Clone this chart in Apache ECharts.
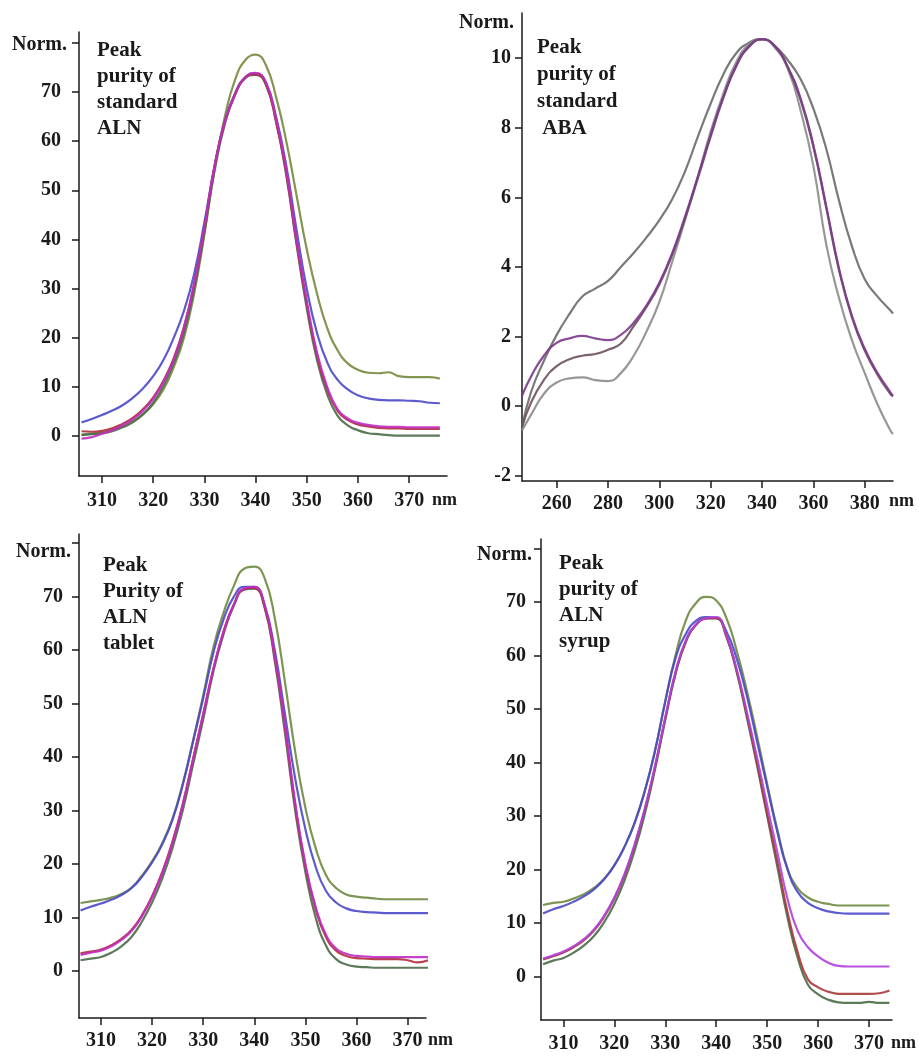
<!DOCTYPE html>
<html>
<head>
<meta charset="utf-8">
<title>Peak purity</title>
<script src="https://cdn.jsdelivr.net/npm/echarts@6/dist/echarts.min.js"></script>
<style>
    html, body { margin: 0; padding: 0; background: #fff; }
    #chart { width: 919px; height: 1059px; }
</style>
</head>
<body>
<div id="chart"></div>
<script>
// 数据: 标准 ALN (左上)
const wlAln = [306, 308, 310, 312, 314, 316, 318, 320, 322, 324, 326, 328, 330, 332, 334, 336, 338, 340,
    342, 344, 346, 348, 350, 352, 354, 356, 358, 360, 362, 364, 366, 368, 370, 372, 374, 376];
const alnOlive = [0.3, 0.5, 0.8, 1.3, 2.0, 3.0, 4.5, 6.5, 9.5, 14, 20, 29, 41, 54.5, 65, 72.5, 76.5, 77.6,
    75.5, 69, 60, 49, 38, 29, 22, 17.5, 14.8, 13.5, 12.9, 12.8, 13.0, 12.2, 12.0, 12.0, 12.0, 11.7];
const alnBlue = [2.8, 3.5, 4.3, 5.2, 6.3, 7.8, 9.7, 12.2, 15.5, 20, 25.5, 33, 43.5, 55, 64, 69.8, 73, 73.8,
    72, 65, 55, 42, 30, 21, 15, 11.5, 9.5, 8.3, 7.7, 7.4, 7.3, 7.3, 7.2, 7.1, 6.8, 6.7];
const alnRed = [1.0, 0.9, 1.1, 1.6, 2.5, 3.7, 5.5, 7.9, 11.3, 15.8, 22.2, 31, 42.5, 55, 64, 69.5, 73, 73.6,
    71.6, 64, 53.5, 39.5, 27, 16.5, 9.6, 5.2, 3.3, 2.4, 2.0, 1.7, 1.6, 1.6, 1.5, 1.5, 1.5, 1.5];
const alnMagenta = [-0.5, -0.2, 0.5, 1.2, 2.2, 3.4, 5.2, 7.6, 11.0, 15.5, 22, 31, 42.5, 55, 64, 69.5, 73, 73.9,
    72, 64.5, 54, 40, 27.5, 17, 10, 5.5, 3.6, 2.7, 2.3, 2.0, 1.9, 1.9, 1.8, 1.8, 1.8, 1.8];
const alnGreen = [0.2, 0.4, 0.6, 1.0, 1.8, 2.8, 4.4, 6.8, 10.2, 14.8, 21, 30, 41.5, 54, 63.5, 69.5, 72.8, 73.5,
    71.5, 64, 53, 39, 26, 15.5, 8.5, 4.2, 2.2, 1.2, 0.6, 0.4, 0.2, 0.1, 0.1, 0.1, 0.1, 0.1];

// 数据: 标准 ABA (右上)
const wlAba = [246.5, 250, 255, 260, 265, 270, 275, 280, 285, 290, 295, 300, 305, 310, 315, 320, 325, 330,
    335, 340, 345, 350, 355, 360, 365, 370, 375, 380, 385, 390, 391];
const abaPurple = [0.3, 0.85, 1.45, 1.82, 1.95, 2.02, 1.95, 1.9, 2.05, 2.4, 2.9, 3.55, 4.4, 5.45, 6.6, 7.8, 8.9, 9.8,
    10.35, 10.55, 10.35, 9.75, 8.85, 7.5, 5.75, 3.95, 2.6, 1.65, 0.95, 0.4, 0.3];
const abaBrown = [-0.6, 0.1, 0.75, 1.15, 1.35, 1.45, 1.5, 1.62, 1.8, 2.3, 2.85, 3.5, 4.35, 5.4, 6.55, 7.75, 8.88, 9.78,
    10.33, 10.54, 10.35, 9.75, 8.8, 7.45, 5.7, 3.9, 2.55, 1.6, 0.9, 0.35, 0.28];
const abaGrayHigh = [-0.6, 0.4, 1.3, 2.05, 2.65, 3.15, 3.38, 3.6, 4.0, 4.4, 4.85, 5.35, 5.95, 6.75, 7.75, 8.7, 9.55, 10.15,
    10.45, 10.55, 10.35, 9.95, 9.4, 8.55, 7.4, 5.9, 4.6, 3.65, 3.15, 2.75, 2.66];
const abaGrayLow = [-0.7, -0.25, 0.35, 0.68, 0.8, 0.83, 0.75, 0.72, 0.95, 1.45, 2.15, 3.0, 4.15, 5.35, 6.6, 7.9, 9.0, 9.9,
    10.4, 10.55, 10.3, 9.7, 8.5, 6.9, 4.65, 3.1, 1.9, 0.95, 0.05, -0.7, -0.8];

// 数据: ALN 片剂 (左下)
const wlTab = [306, 308, 310, 312, 314, 316, 318, 320, 322, 324, 326, 328, 330, 332, 334, 336, 338, 340,
    342, 344, 346, 348, 350, 352, 354, 356, 358, 360, 362, 364, 366, 368, 370, 372, 374];
const tabOlive = [12.7, 13.0, 13.3, 13.7, 14.4, 15.6, 17.8, 20.5, 23.9, 28.5, 35, 43, 51.5, 60.5, 67, 72, 75.2, 75.6,
    73.5, 66, 54, 41, 30.5, 23, 18, 15.5, 14.3, 13.9, 13.7, 13.5, 13.4, 13.4, 13.4, 13.4, 13.4];
const tabBlue = [11.3, 12.0, 12.6, 13.3, 14.2, 15.5, 17.6, 20.3, 23.7, 28.3, 34.8, 42.8, 51, 59.5, 65.8, 70, 71.8, 71.8,
    68.5, 60, 48, 36, 26.5, 19.5, 15, 12.8, 11.7, 11.2, 11.0, 10.9, 10.8, 10.8, 10.8, 10.8, 10.8];
const tabRed = [3.3, 3.6, 4.0, 4.8, 6.0, 7.7, 10.4, 14, 18.5, 24.2, 31.2, 39.6, 48, 56.5, 63.5, 68.5, 71.4, 71.6,
    68.2, 58.7, 45.6, 31, 19.6, 11.6, 6.4, 3.8, 2.8, 2.4, 2.3, 2.2, 2.2, 2.2, 2.0, 1.6, 2.0];
const tabMagenta = [3.0, 3.4, 3.8, 4.6, 5.8, 7.5, 10.2, 13.8, 18.3, 24, 31, 39.5, 48, 56.5, 63.5, 68.5, 71.5, 71.8,
    68.5, 59, 46, 31.5, 20, 12, 6.8, 4.2, 3.2, 2.8, 2.7, 2.6, 2.6, 2.6, 2.6, 2.6, 2.6];
const tabGreen = [2.0, 2.3, 2.6, 3.4, 4.6, 6.4, 9.2, 12.8, 17.3, 23, 30, 38.5, 47, 56, 63, 68.3, 71.3, 71.5,
    68, 58, 44.5, 30, 18.5, 10, 4.8, 2.2, 1.2, 0.8, 0.7, 0.6, 0.6, 0.6, 0.6, 0.6, 0.6];

// 数据: ALN 糖浆 (右下)
const wlSyr = [306, 308, 310, 312, 314, 316, 318, 320, 322, 324, 326, 328, 330, 332, 334, 336, 338, 340,
    342, 344, 346, 348, 350, 352, 354, 356, 358, 360, 362, 364, 366, 368, 370, 372, 374];
const syrOlive = [13.4, 13.8, 14.0, 14.6, 15.4, 16.6, 18.3, 20.8, 24.3, 28.8, 34.8, 42.3, 51.5, 60, 66.5, 69.8, 71, 70.3,
    67, 61, 53.5, 45, 36, 27.5, 20.2, 16.5, 14.8, 14.0, 13.6, 13.3, 13.3, 13.3, 13.3, 13.3, 13.3];
const syrBlue = [11.8, 12.6, 13.2, 14.0, 15.0, 16.3, 18.2, 20.8, 24.3, 28.8, 34.8, 42.3, 51.5, 59.5, 64, 66.5, 67.2, 67,
    64.5, 59.5, 52.5, 44, 35.5, 27, 20, 15.8, 13.8, 12.8, 12.2, 11.9, 11.8, 11.8, 11.8, 11.8, 11.8];
const syrRed = [3.2, 3.8, 4.5, 5.5, 6.8, 8.6, 11.2, 14.6, 19.0, 24.6, 31.3, 39.3, 48.3, 56.8, 62.6, 65.7, 66.9, 67.0,
    63.6, 57.2, 49, 40, 30.5, 21.5, 12, 4.5, -0.5, -2.0, -2.8, -3.2, -3.2, -3.2, -3.2, -3.1, -2.6];
const syrMagenta = [3.4, 4.0, 4.7, 5.7, 7.0, 8.8, 11.4, 14.8, 19.2, 24.8, 31.5, 39.5, 48.5, 57, 62.8, 65.8, 67, 67.2,
    63.8, 57.5, 49.5, 41, 32, 23.2, 14.5, 8.5, 5.5, 3.8, 2.6, 2.0, 1.9, 1.9, 1.9, 1.9, 1.9];
const syrGreen = [2.3, 3.0, 3.5, 4.5, 5.8, 7.6, 10.2, 13.6, 18.0, 23.6, 30.5, 38.8, 48, 56.5, 62.5, 65.7, 67, 67,
    63.5, 57, 48.5, 39.5, 30, 20.5, 11, 3.5, -1.5, -3.3, -4.3, -4.8, -4.9, -4.9, -4.7, -4.9, -4.9];

// 刻度
const ticksNm = [310, 320, 330, 340, 350, 360, 370];
const ticksNmAba = [260, 280, 300, 320, 340, 360, 380];
const ticksNorm = [0, 10, 20, 30, 40, 50, 60, 70, 80];
const labelsNorm = [0, 10, 20, 30, 40, 50, 60, 70];
const ticksAba = [-2, 0, 2, 4, 6, 8, 10];

const FONT = 'Liberation Serif';
const INK = '#1a1a1a';

function pairs(xs, ys) {
    return xs.map((x, i) => [x, ys[i]]);
}

function makeAxis(gridIndex, min, max, ticks, labels, margin) {
    return {
        type: 'value',
        gridIndex: gridIndex,
        min: min,
        max: max,
        axisLine: { show: true, onZero: false, lineStyle: { color: INK, width: 1.5 } },
        axisTick: { show: true, customValues: ticks, length: 7, lineStyle: { color: INK, width: 1.5 } },
        axisLabel: {
            customValues: labels, margin: margin,
            fontFamily: FONT, fontWeight: 'bold', fontSize: 20, color: INK
        },
        splitLine: { show: false }
    };
}

function makeLine(idx, xs, ys, color) {
    return {
        type: 'line',
        xAxisIndex: idx,
        yAxisIndex: idx,
        data: pairs(xs, ys),
        showSymbol: false,
        symbol: 'none',
        smooth: 0.5,
        lineStyle: { color: color, width: 2.2, opacity: 0.9 },
        silent: true
    };
}

function textEl(x, y, text, size, align, vAlign, lineHeight) {
    return {
        type: 'text',
        x: x,
        y: y,
        style: {
            text: text,
            fill: INK,
            font: 'bold ' + size + 'px "' + FONT + '"',
            textAlign: align,
            textVerticalAlign: vAlign,
            lineHeight: lineHeight || size
        }
    };
}

const chart = echarts.init(document.getElementById('chart'), null, { renderer: 'canvas' });

chart.setOption({
    animation: false,
    backgroundColor: '#ffffff',
    grid: [
        { left: 79, top: 32, width: 368, height: 444 },
        { left: 522, top: 13, width: 371, height: 468 },
        { left: 79, top: 534, width: 347, height: 484 },
        { left: 541, top: 539, width: 351, height: 481 }
    ],
    xAxis: [
        makeAxis(0, 305.5, 377.4, ticksNm, ticksNm, 15),
        makeAxis(1, 246.5, 391, ticksNmAba, ticksNmAba, 13),
        makeAxis(2, 305.7, 373.6, ticksNm, ticksNm, 13),
        makeAxis(3, 305.6, 374.5, ticksNm, ticksNm, 14)
    ],
    yAxis: [
        makeAxis(0, -8.1, 82.2, ticksNorm, labelsNorm, 18),
        makeAxis(1, -2.15, 11.3, ticksAba, ticksAba, 11),
        makeAxis(2, -8.8, 81.7, ticksNorm, labelsNorm, 16),
        makeAxis(3, -8.1, 81.8, ticksNorm, labelsNorm, 15)
    ],
    series: [
        makeLine(0, wlAln, alnOlive, '#768a3e'),
        makeLine(0, wlAln, alnBlue, '#4a48c6'),
        makeLine(0, wlAln, alnGreen, '#4a6c48'),
        makeLine(0, wlAln, alnRed, '#b02e3c'),
        makeLine(0, wlAln, alnMagenta, '#c02cc2'),

        makeLine(1, wlAba, abaGrayHigh, '#6a6a6a'),
        makeLine(1, wlAba, abaGrayLow, '#8c8c8c'),
        makeLine(1, wlAba, abaBrown, '#6e5060'),
        makeLine(1, wlAba, abaPurple, '#7c3a8c'),

        makeLine(2, wlTab, tabOlive, '#6e8a40'),
        makeLine(2, wlTab, tabBlue, '#4a48c6'),
        makeLine(2, wlTab, tabGreen, '#4a6c48'),
        makeLine(2, wlTab, tabRed, '#b02e3c'),
        makeLine(2, wlTab, tabMagenta, '#c02cc2'),

        makeLine(3, wlSyr, syrOlive, '#6e8a40'),
        makeLine(3, wlSyr, syrBlue, '#4a48c6'),
        makeLine(3, wlSyr, syrGreen, '#4a6c48'),
        makeLine(3, wlSyr, syrRed, '#a83a3a'),
        makeLine(3, wlSyr, syrMagenta, '#b040dc')
    ],
    graphic: [
        // 纵轴名称
        textEl(67, 45, 'Norm.', 20, 'right', 'middle'),
        textEl(514, 23, 'Norm.', 20, 'right', 'middle'),
        textEl(71, 552, 'Norm.', 20, 'right', 'middle'),
        textEl(532, 555, 'Norm.', 20, 'right', 'middle'),
        // 横轴单位
        textEl(432, 500, 'nm', 18, 'left', 'middle'),
        textEl(889, 501, 'nm', 18, 'left', 'middle'),
        textEl(428, 1040, 'nm', 18, 'left', 'middle'),
        textEl(891, 1043, 'nm', 18, 'left', 'middle'),
        // 面板标题
        textEl(97, 38, 'Peak\npurity of\nstandard\nALN', 21, 'left', 'top', 26),
        textEl(537, 34, 'Peak\npurity of\nstandard\n ABA', 21, 'left', 'top', 27),
        textEl(103, 553, 'Peak\nPurity of\nALN\ntablet', 21, 'left', 'top', 26),
        textEl(559, 551, 'Peak\npurity of\nALN\nsyrup', 21, 'left', 'top', 26)
    ]
});
</script>
</body>
</html>
